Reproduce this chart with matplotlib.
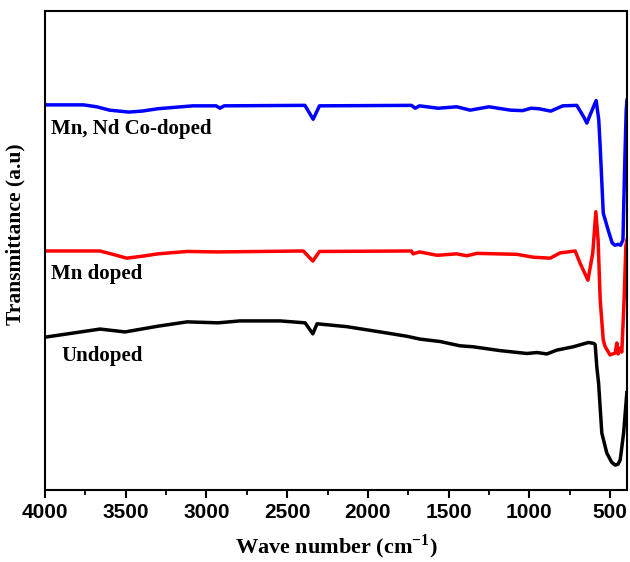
import matplotlib
matplotlib.use("Agg")
import matplotlib.pyplot as plt
from matplotlib.ticker import MultipleLocator

# Wavenumber (cm^-1) and transmittance (a.u.)
wn_codoped = [4000, 3760, 3680, 3600, 3482, 3400, 3300, 3084, 2940, 2916, 2890, 2390, 2339, 2300,
              1730, 1707, 1680, 1565, 1450, 1366, 1250, 1117, 1042, 990, 942, 867, 793,
              706, 660, 644, 620, 600, 586, 570, 561, 542, 512, 487, 470, 450, 435, 420,
              410, 400, 395]
t_codoped = [80.4, 80.4, 80.0, 79.3, 78.9, 79.1, 79.6, 80.2, 80.2, 79.7, 80.2, 80.3, 77.4, 80.2,
             80.3, 79.7, 80.2, 79.7, 80.0, 79.3, 80.0, 79.3, 79.2, 79.7, 79.6, 79.1, 80.2,
             80.3, 77.7, 76.6, 78.6, 80.2, 81.3, 77.3, 71.6, 57.8, 54.3, 51.6, 51.1, 51.3,
             51.1, 52.2, 66.8, 79.3, 81.4]

wn_mn = [4000, 3660, 3580, 3494, 3400, 3300, 3120, 2928, 2400, 2341, 2300, 1730, 1720, 1680, 1571,
         1450, 1387, 1325, 1077, 976, 871, 809, 716, 685, 637, 607, 588, 574, 561, 542,
         530, 500, 468, 458, 450, 437, 427, 413, 402, 395]
t_mn = [49.9, 49.9, 49.2, 48.4, 48.8, 49.3, 49.8, 49.7, 49.9, 47.8, 49.8, 49.9, 49.3, 49.7, 49.0,
        49.3, 48.9, 49.4, 49.2, 48.6, 48.4, 49.5, 49.9, 47.3, 43.8, 49.5, 58.1, 52.2,
        39.7, 31.3, 29.9, 28.2, 28.6, 30.7, 28.4, 29.6, 28.8, 39.7, 51.0, 52.2]

wn_undoped = [4000, 3659, 3504, 3300, 3120, 2928, 2792, 2544, 2389, 2341, 2315, 2131,
              1924, 1759, 1677, 1553, 1429, 1348, 1181, 1015, 953, 891, 830, 728, 634,
              600, 592, 582, 571, 551, 520, 490, 468, 450, 437, 416, 396]
t_undoped = [31.9, 33.6, 33.0, 34.2, 35.1, 34.9, 35.3, 35.3, 34.9, 32.6, 34.7, 34.1,
             33.0, 32.1, 31.5, 31.0, 30.1, 29.9, 29.1, 28.5, 28.7, 28.4, 29.2, 29.9, 30.8,
             30.6, 30.3, 25.7, 22.3, 11.9, 7.7, 5.8, 5.2, 5.4, 6.3, 11.9, 20.3]

series_labels = ["Mn, Nd Co-doped", "Mn doped", "Undoped"]
label_pos = [(3960, 75.3), (3960, 45.0), (3900, 28.0)]
colors = ["#0000ff", "#ff0000", "#000000"]

plt.rcParams['mathtext.fontset'] = 'custom'
plt.rcParams['mathtext.rm'] = 'Liberation Serif:bold'
plt.rcParams['mathtext.bf'] = 'Liberation Serif:bold'

fig = plt.figure(figsize=(6.3, 5.62), dpi=100)
ax = fig.add_axes([45/630, 72/562, 582/630, 479/562])

for wn, t, c in zip([wn_codoped, wn_mn, wn_undoped], [t_codoped, t_mn, t_undoped], colors):
    ax.plot(wn, t, color=c, lw=2.5, solid_joinstyle='round')

for lab, (x, y) in zip(series_labels, label_pos):
    ax.text(x, y, lab, fontsize=15, fontweight='bold', family='Liberation Serif',
            ha='left', va='center')

ax.set_xlim(4000, 395)
ax.set_ylim(0, 100)
ax.xaxis.set_major_locator(MultipleLocator(500))
ax.xaxis.set_minor_locator(MultipleLocator(250))
ax.set_yticks([])
ax.tick_params(axis='x', which='major', length=6, width=1.5, direction='out',
               labelsize=15, pad=3)
ax.tick_params(axis='x', which='minor', length=3.5, width=1.3, direction='out')
for lbl in ax.get_xticklabels():
    lbl.set_fontweight('bold')
    lbl.set_family('Liberation Sans')
for s in ax.spines.values():
    s.set_linewidth(1.5)

ax.set_xlabel(r'Wave number (cm$^{\mathbf{-1}}$)', fontsize=16, fontweight='bold',
              family='Liberation Serif')
ax.xaxis.set_label_coords(0.5, -0.088)
ax.set_ylabel('Transmittance (a.u)', fontsize=15.5, fontweight='bold',
              family='Liberation Serif')
ax.yaxis.set_label_coords(-0.033, 0.535)

fig.savefig('out.png', dpi=100)
